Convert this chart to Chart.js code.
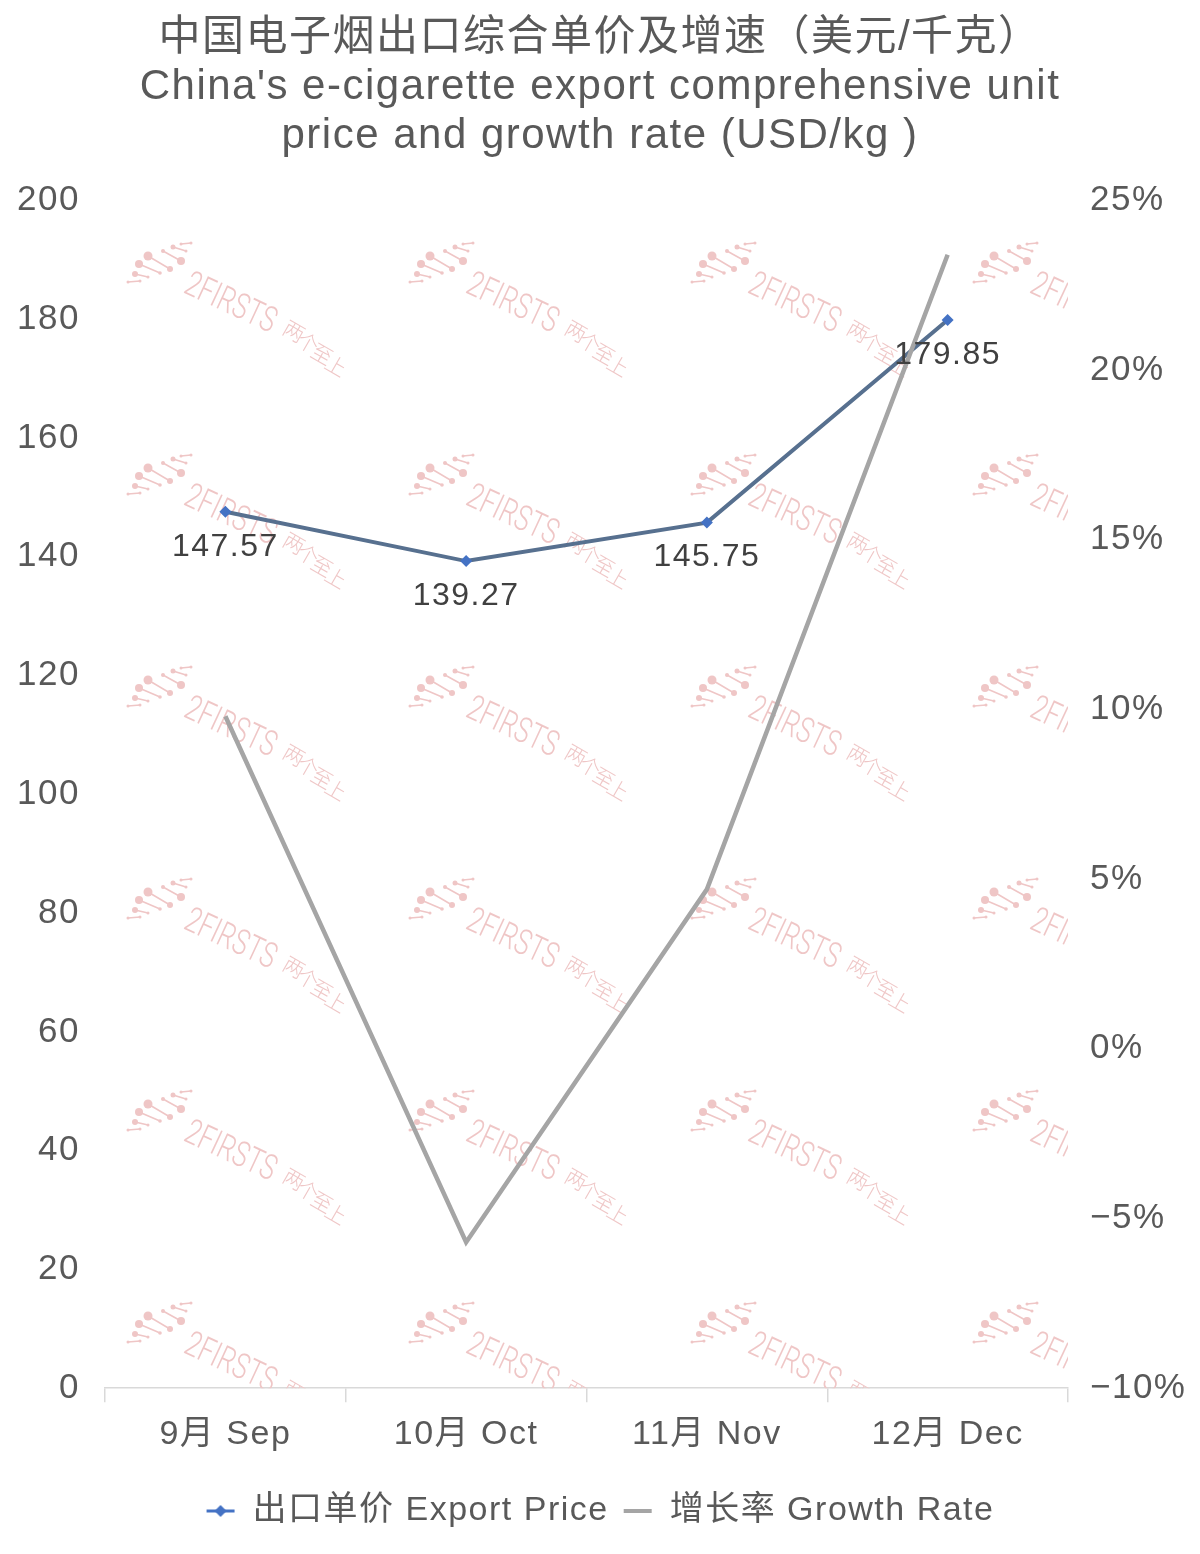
<!DOCTYPE html>
<html><head><meta charset="utf-8">
<script src="https://cdn.jsdelivr.net/npm/chart.js@4.4.0/dist/chart.umd.min.js"></script>
<style>html,body{margin:0;padding:0;background:#fff}</style>
</head><body>
<canvas id="c" width="1200" height="1554"></canvas>
<script>
const titleLines = ['中国电子烟出口综合单价及增速（美元/千克）', "China's e-cigarette export comprehensive unit", 'price and growth rate (USD/kg )'];
const categories = ['9月 Sep', '10月 Oct', '11月 Nov', '12月 Dec'];
const exportPrice = [147.57, 139.27, 145.75, 179.85];
const growthRate = [9.8, -5.7, 4.7, 23.4];
const priceTickLabels = ['0', '20', '40', '60', '80', '100', '120', '140', '160', '180', '200'];
const rateTickLabels = ['−10%', '−5%', '0%', '5%', '10%', '15%', '20%', '25%'];
const seriesNames = ['出口单价 Export Price', '增长率 Growth Rate'];

const FONT = '"Liberation Sans", "Noto Sans CJK SC", sans-serif';
const TEXT = '#595959';
const PRICE_LINE = '#57708f';
const PRICE_MARK = '#4472c4';
const RATE_LINE = '#a5a5a5';
const WM = '#efc6c6';

function makeIcon(kind) {
  const cv = document.createElement('canvas');
  cv.width = 30; cv.height = 14;
  const x = cv.getContext('2d');
  if (kind === 0) {
    x.strokeStyle = PRICE_MARK; x.lineWidth = 3;
    x.beginPath(); x.moveTo(1, 7); x.lineTo(29, 7); x.stroke();
    x.fillStyle = PRICE_MARK;
    x.beginPath(); x.moveTo(15, 1); x.lineTo(21, 7); x.lineTo(15, 13); x.lineTo(9, 7); x.closePath(); x.fill();
  } else {
    x.strokeStyle = RATE_LINE; x.lineWidth = 4;
    x.beginPath(); x.moveTo(1, 7); x.lineTo(29, 7); x.stroke();
  }
  return cv;
}
const icons = [makeIcon(0), makeIcon(1)];

const spacingPlugin = {
  id: 'spacing',
  beforeUpdate(c) { c.ctx.letterSpacing = '1.5px'; },
  beforeLayout(c) { c.ctx.letterSpacing = '1.5px'; },
  beforeDraw(c) { c.ctx.letterSpacing = '1.5px'; }
};

// watermark logo strokes: x1,y1,x2,y2,r1,r2 (relative to cell origin)
const strokes = [
  [0, 39, 12, 38, 1.5, 1.5],
  [7, 31, 20, 34, 3, 1.5],
  [11, 21, 32, 30, 4, 1.8],
  [20, 13, 42, 26, 4.5, 3],
  [35, 8, 53, 18, 2, 4],
  [45, 4, 58, 8, 2.5, 1.5],
  [53, 1, 63, 0, 1.5, 1.5]
];
const wmChars = ['两', '个', '至', '上'];
const watermarkPlugin = {
  id: 'watermark',
  beforeDatasetsDraw(c) {
    const ctx = c.ctx, a = c.chartArea;
    ctx.save();
    ctx.beginPath(); ctx.rect(a.left, a.top, a.right - a.left, a.bottom - a.top); ctx.clip();
    ctx.letterSpacing = '0px';
    for (let i = 0; i < 4; i++) {
      for (let j = 0; j < 6; j++) {
        const bx = 128 + 282 * i, by = 243 + 212 * j;
        ctx.strokeStyle = WM; ctx.fillStyle = WM; ctx.lineWidth = 1.6;
        strokes.forEach(s => {
          ctx.beginPath(); ctx.moveTo(bx + s[0], by + s[1]); ctx.lineTo(bx + s[2], by + s[3]); ctx.stroke();
          ctx.beginPath(); ctx.arc(bx + s[0], by + s[1], s[4], 0, Math.PI * 2); ctx.fill();
          ctx.beginPath(); ctx.arc(bx + s[2], by + s[3], s[5], 0, Math.PI * 2); ctx.fill();
        });
        ctx.save();
        ctx.translate(bx + 58, by + 41);
        ctx.rotate(25 * Math.PI / 180);
        ctx.scale(0.8, 1.1);
        ctx.textBaseline = 'middle'; ctx.textAlign = 'left';
        ctx.font = '300 32px Roboto, "Liberation Sans", sans-serif';
        ctx.fillText('2FIRSTS', 0, 0);
        ctx.restore();
        wmChars.forEach((ch, k) => {
          ctx.save();
          ctx.translate(bx + 166 + k * 14, by + 88 + k * 11.5);
          ctx.rotate(30 * Math.PI / 180);
          ctx.textBaseline = 'middle'; ctx.textAlign = 'center';
          ctx.font = '300 21px "Noto Sans CJK SC", sans-serif';
          ctx.fillText(ch, 0, 0);
          ctx.restore();
        });
      }
    }
    ctx.restore();
  }
};

const labelPlugin = {
  id: 'valueLabels',
  afterDatasetsDraw(c) {
    const ctx = c.ctx, meta = c.getDatasetMeta(0);
    ctx.save();
    ctx.letterSpacing = '1.5px';
    ctx.font = '32px ' + FONT; ctx.fillStyle = '#404040';
    ctx.textAlign = 'center'; ctx.textBaseline = 'middle';
    meta.data.forEach((p, i) => {
      ctx.fillText(exportPrice[i].toFixed(2), p.x, p.y + 35);
    });
    ctx.restore();
  }
};

new Chart(document.getElementById('c'), {
  type: 'line',
  data: {
    labels: categories,
    datasets: [
      {
        label: seriesNames[0], data: exportPrice, yAxisID: 'y', order: 1,
        borderColor: PRICE_LINE, borderWidth: 4, pointStyle: 'rectRot', pointRadius: 6,
        pointBackgroundColor: PRICE_MARK, pointBorderColor: PRICE_MARK, pointBorderWidth: 0, tension: 0
      },
      {
        label: seriesNames[1], data: growthRate, yAxisID: 'y1', order: 0,
        borderColor: RATE_LINE, borderWidth: 4.5, pointRadius: 0, tension: 0
      }
    ]
  },
  options: {
    responsive: false, animation: false,
    layout: { padding: { left: 0, right: 0, top: 0, bottom: 16 } },
    plugins: {
      tooltip: { enabled: false },
      title: {
        display: true, text: titleLines, color: TEXT,
        font: { family: FONT, size: 42, weight: 'normal', lineHeight: 1.17 },
        padding: { top: 14, bottom: 39 }
      },
      legend: {
        position: 'bottom',
        labels: {
          color: TEXT, font: { family: FONT, size: 34 }, usePointStyle: true,
          boxWidth: 30, boxHeight: 14, pointStyleWidth: 30, padding: 14,
          generateLabels() {
            return seriesNames.map((n, i) => ({
              text: n, pointStyle: icons[i], datasetIndex: i, hidden: false,
              fillStyle: 'transparent', strokeStyle: 'transparent', lineWidth: 0, fontColor: TEXT
            }));
          }
        }
      }
    },
    scales: {
      x: {
        offset: true,
        grid: { offset: true, drawOnChartArea: false, drawTicks: true, tickLength: 14, color: '#d9d9d9', lineWidth: 1.5 },
        border: { display: true, color: '#d9d9d9', width: 1.5 },
        ticks: { color: TEXT, font: { family: FONT, size: 34 }, padding: 12, maxRotation: 0 },
        afterFit(s) { s.height += 13; }
      },
      y: {
        position: 'left', min: 0, max: 200,
        grid: { display: false, drawTicks: false }, border: { display: false },
        ticks: { stepSize: 20, color: TEXT, font: { family: FONT, size: 35 }, padding: 25,
          callback: (v, i) => priceTickLabels[i] },
        afterFit(s) { s.width = 105; }
      },
      y1: {
        position: 'right', min: -10, max: 25,
        grid: { display: false, drawTicks: false }, border: { display: false },
        ticks: { stepSize: 5, color: TEXT, font: { family: FONT, size: 35 }, padding: 22,
          callback: (v, i) => rateTickLabels[i] },
        afterFit(s) { s.width = 132; }
      }
    }
  },
  plugins: [spacingPlugin, watermarkPlugin, labelPlugin]
});
</script>
</body></html>
